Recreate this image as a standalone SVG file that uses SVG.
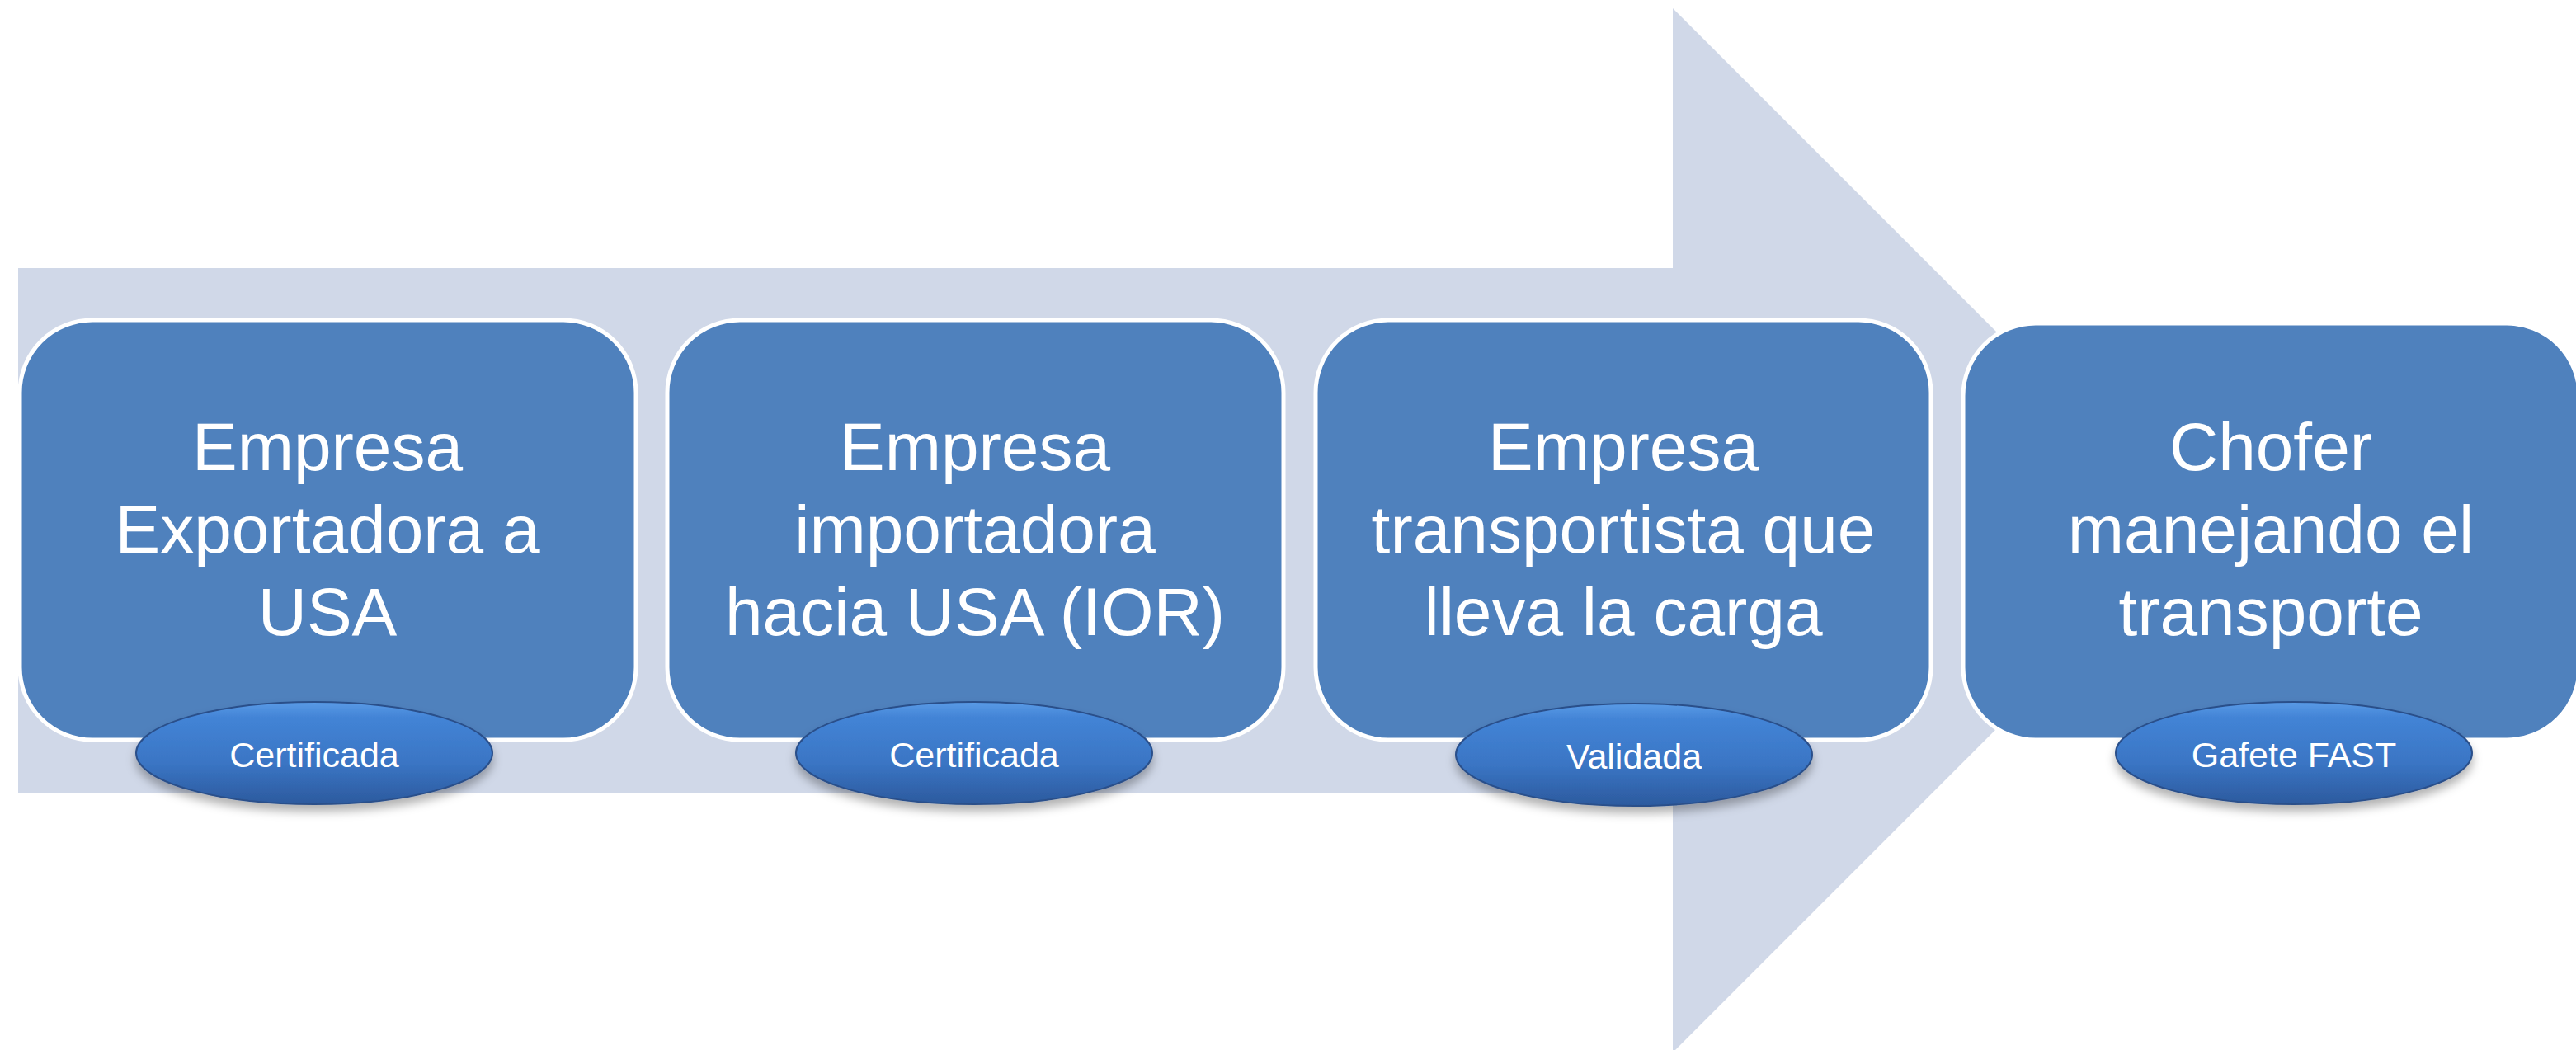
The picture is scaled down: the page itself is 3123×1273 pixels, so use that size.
<svg xmlns="http://www.w3.org/2000/svg" width="3123" height="1273" viewBox="0 0 3123 1273">
<style>
.box{fill:#4F81BD;stroke:#FFFFFF;stroke-width:5}
.bt{font-family:"Liberation Sans",Arial,sans-serif;font-size:82px;fill:#FFFFFF;text-anchor:middle}
.ell{fill:url(#eg);stroke:#2A4F8A;stroke-width:2;filter:url(#sh)}
.et{font-family:"Liberation Sans",Arial,sans-serif;font-size:43px;fill:#FFFFFF;text-anchor:middle}
</style>
<defs>
<linearGradient id="eg" x1="0" y1="0" x2="0" y2="1">
<stop offset="0" stop-color="#5A9BE6"/>
<stop offset="0.15" stop-color="#4384D6"/>
<stop offset="0.6" stop-color="#3A75C4"/>
<stop offset="1" stop-color="#2C5A9E"/>
</linearGradient>
<filter id="sh" x="-20%" y="-30%" width="140%" height="170%">
<feDropShadow dx="0" dy="8" stdDeviation="6" flood-color="#000000" flood-opacity="0.3"/>
</filter>
</defs>
<rect width="3123" height="1273" fill="#FFFFFF"/>
<polygon points="22,325 2028,325 2028,10 2661,643 2028,1276 2028,962 22,962" fill="#D0D8E8"/>
<g id="connectors"></g>
<g id="node1">
<rect class="box" x="24" y="388" width="747" height="509" rx="88" ry="88"/>
<text class="bt" x="397" y="570">Empresa</text>
<text class="bt" x="397" y="670">Exportadora a</text>
<text class="bt" x="397" y="770">USA</text>
<ellipse class="ell" cx="381" cy="913" rx="216" ry="62"/>
<text class="et" x="381" y="930">Certificada</text>
</g>
<g id="node2">
<rect class="box" x="809" y="388" width="747" height="509" rx="88" ry="88"/>
<text class="bt" x="1182" y="570">Empresa</text>
<text class="bt" x="1182" y="670">importadora</text>
<text class="bt" x="1182" y="770">hacia USA (IOR)</text>
<ellipse class="ell" cx="1181" cy="913" rx="216" ry="62"/>
<text class="et" x="1181" y="930">Certificada</text>
</g>
<g id="node3">
<rect class="box" x="1595" y="388" width="746" height="509" rx="88" ry="88"/>
<text class="bt" x="1968" y="570">Empresa</text>
<text class="bt" x="1968" y="670">transportista que</text>
<text class="bt" x="1968" y="770">lleva la carga</text>
<ellipse class="ell" cx="1981" cy="915" rx="216" ry="62"/>
<text class="et" x="1981" y="932">Validada</text>
</g>
<g id="node4">
<rect class="box" x="2380" y="392" width="747" height="505" rx="88" ry="88"/>
<text class="bt" x="2753" y="570">Chofer</text>
<text class="bt" x="2753" y="670">manejando el</text>
<text class="bt" x="2753" y="770">transporte</text>
<ellipse class="ell" cx="2781" cy="913" rx="216" ry="62"/>
<text class="et" x="2781" y="930">Gafete FAST</text>
</g>
</svg>
